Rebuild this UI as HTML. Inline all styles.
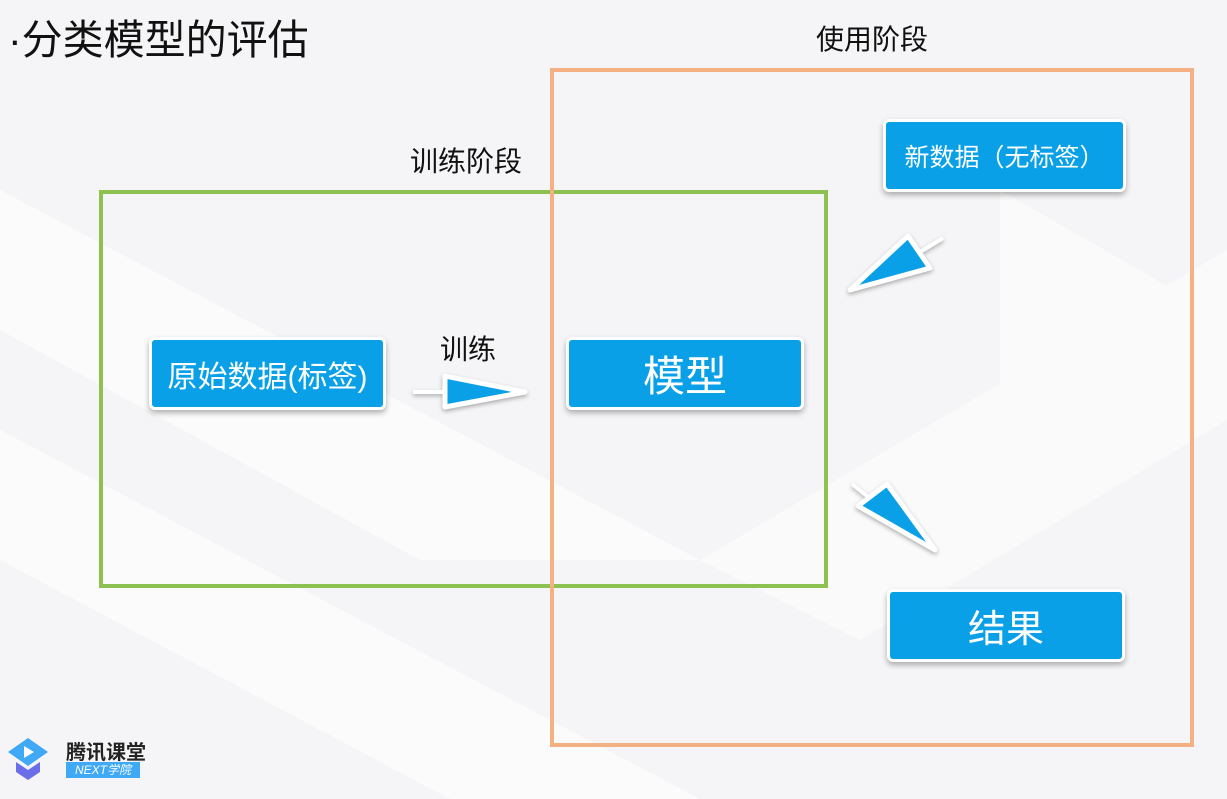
<!DOCTYPE html>
<html><head><meta charset="utf-8"><style>
body{margin:0;width:1227px;height:799px;overflow:hidden;background:#f5f5f7;font-family:"Liberation Sans","Noto Sans CJK SC",sans-serif;}
.t{position:absolute;white-space:nowrap;color:#111;}
.b{position:absolute;background:#0aa0e8;color:#fff;border:3px solid #fff;border-radius:6px;box-shadow:0 3px 6px rgba(0,0,0,.3);display:flex;align-items:center;justify-content:center;}
</style></head><body>
<svg width="1227" height="799" style="position:absolute;left:0;top:0">
<polygon points="0,190 0,330 420,560 700,560" fill="#fff" opacity=".6"/>
<polygon points="0,430 0,560 450,799 700,799" fill="#fff" opacity=".6"/>
<polygon points="700,560 1227,250 1227,420 860,640" fill="#fff" opacity=".5"/>
<path d="M1000,190 L1000,420 L1200,305 Z" fill="#fafafb"/>
<rect x="101" y="192" width="725" height="394" fill="none" stroke="#8dc152" stroke-width="4"/>
<rect x="552" y="70" width="640" height="675" fill="none" stroke="#f4b183" stroke-width="4"/>
<g stroke="#fff" stroke-width="5" stroke-linejoin="round" fill="#0aa0e8" style="filter:drop-shadow(0 2px 2px rgba(0,0,0,.3))">
<line x1="413" y1="392" x2="445" y2="392" stroke="#fff" stroke-width="4"/>
<polygon points="445,376 525,392 445,407"/>
<line x1="943" y1="238" x2="920" y2="252" stroke="#fff" stroke-width="4"/>
<polygon points="850,290 908,236 930,268"/>
<line x1="852" y1="484" x2="872" y2="500" stroke="#fff" stroke-width="4"/>
<polygon points="858,506 887,484 935,550"/>
</g>
<path d="M8,752 L28,738 L48,752 L28,766 Z" fill="#3fa9f5"/>
<path d="M16,762 L28,770 L40,762 L40,772 L28,780 L16,772 Z" fill="#6a6ee8"/>
<path d="M24,746 L34,752 L24,758 Z" fill="#fff"/>
</svg>
<div class="t" style="left:8px;top:6px;font-size:41px;">·分类模型的评估</div>
<div class="t" style="left:816px;top:18px;font-size:28px;">使用阶段</div>
<div class="t" style="left:410px;top:140px;font-size:28px;">训练阶段</div>
<div class="t" style="left:440px;top:328px;font-size:28px;">训练</div>
<div class="b" style="left:149px;top:337px;width:231px;height:67px;font-size:30px;">原始数据(标签)</div>
<div class="b" style="left:566px;top:337px;width:232px;height:67px;font-size:42px;">模型</div>
<div class="b" style="left:883px;top:119px;width:237px;height:67px;font-size:25px;">新数据（无标签）</div>
<div class="b" style="left:887px;top:589px;width:232px;height:67px;font-size:38px;">结果</div>
<div class="t" style="left:66px;top:736px;font-size:20px;font-weight:bold;color:#222;">腾讯课堂</div>
<div class="t" style="left:66px;top:762px;width:74px;height:16px;background:#3fa9f5;color:#fff;font-size:12px;font-style:italic;text-align:center;line-height:16px;">NEXT学院</div>
</body></html>
